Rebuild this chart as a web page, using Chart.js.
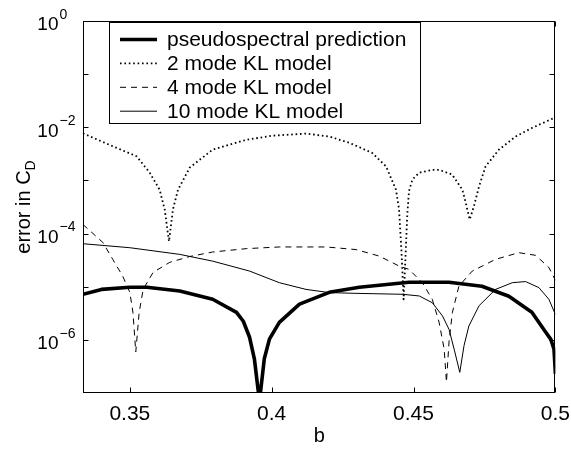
<!DOCTYPE html>
<html>
<head>
<meta charset="utf-8">
<script src="https://cdn.jsdelivr.net/npm/chart.js@4"></script>
<style>
    html, body { margin: 0; padding: 0; background: #fff; }
    canvas { display: block; }
</style>
</head>
<body>
<canvas id="errChart" width="571" height="452"></canvas>
<script>
// Axis setup
const xMin = 0.3335;
const xMax = 0.5;
const xTicks = [0.35, 0.4, 0.45, 0.5];
const xTickLabels = ['0.35', '0.4', '0.45', '0.5'];
const yMin = 1e-7;
const yMax = 1;
const yLabelExps = [-6, -4, -2, 0];
const seriesLabels = ['pseudospectral prediction', '2 mode KL model', '4 mode KL model', '10 mode KL model'];

// pseudospectral prediction (thick)
const thickB = [0.3335, 0.3400, 0.3500, 0.3560, 0.3676, 0.3792, 0.3876, 0.3900, 0.3922, 0.3939, 0.3957, 0.3974, 0.3992,
    0.4027, 0.4098, 0.4203, 0.4309, 0.4484, 0.4625, 0.4741, 0.4836, 0.4917, 0.4966, 0.4984, 0.4995, 0.5000];
const thickErr = [7.2e-6, 8.9e-6, 9.75e-6, 9.8e-6, 8.3e-6, 5.8e-6, 3.3e-6, 2.24e-6, 1.12e-6, 4.4e-7, 7e-8, 4.4e-7, 1.03e-6,
    2.14e-6, 4.7e-6, 7.85e-6, 9.8e-6, 1.21e-5, 1.21e-5, 1.02e-5, 6.6e-6, 3.3e-6, 1.39e-6, 1.02e-6, 6.7e-7, 2.3e-7];

// 2 mode KL model (dotted)
const twoModeB = [0.3335, 0.3440, 0.3524, 0.3570, 0.3605, 0.3623, 0.3638, 0.3652, 0.3670, 0.3711, 0.3792, 0.3910, 0.4003,
    0.4121, 0.4203, 0.4274, 0.4354, 0.4403, 0.4438, 0.4449, 0.4458, 0.4465, 0.4472, 0.4478, 0.4484, 0.4496, 0.4520,
    0.4566, 0.4590, 0.4636, 0.4672, 0.4684, 0.4698, 0.4713, 0.4731, 0.4754, 0.4801, 0.4860, 0.4917, 0.4994, 0.5000];
const twoModeErr = [7.7e-3, 4.4e-3, 2.84e-3, 1.4e-3, 6.7e-4, 2.84e-4, 7.1e-5, 2.84e-4, 6.7e-4, 1.74e-3, 3.8e-3, 5.8e-3, 6.95e-3,
    7.6e-3, 6.7e-3, 5.1e-3, 3.3e-3, 1.84e-3, 6.7e-4, 2.84e-4, 4.1e-5, 5.8e-6, 4.1e-5, 2.3e-4, 6.3e-4, 1.04e-3, 1.4e-3,
    1.58e-3, 1.58e-3, 1.29e-3, 6.7e-4, 3.8e-4, 1.84e-4, 3.3e-4, 7.8e-4, 1.84e-3, 3.8e-3, 6.7e-3, 9.7e-3, 1.49e-2, 1.55e-2];

// 4 mode KL model (dashed)
const fourModeB = [0.3335, 0.3405, 0.3440, 0.3475, 0.3500, 0.3511, 0.3521, 0.3533, 0.3547, 0.3582, 0.3641, 0.3711, 0.3792,
    0.3910, 0.4027, 0.4192, 0.4297, 0.4379, 0.4449, 0.4484, 0.4531, 0.4566, 0.4590, 0.4608, 0.4616, 0.4625, 0.4637,
    0.4660, 0.4707, 0.4789, 0.4871, 0.4930, 0.4977, 0.5000];
const fourModeErr = [1.48e-4, 6.8e-5, 3.27e-5, 1.58e-5, 7.85e-6, 3.3e-6, 5.9e-7, 3.3e-6, 8.9e-6, 1.86e-5, 2.88e-5, 3.7e-5, 4.5e-5,
    5.2e-5, 5.6e-5, 5.6e-5, 5.0e-5, 3.77e-5, 2.45e-5, 2.12e-5, 1.19e-5, 5.8e-6, 2.15e-6, 6.7e-7, 1.6e-7, 9.1e-7, 3.3e-6,
    1.03e-5, 1.97e-5, 3.27e-5, 4.37e-5, 3.9e-5, 2.3e-5, 1.32e-5];

// 10 mode KL model (thin solid)
const tenModeB = [0.3335, 0.3500, 0.3676, 0.3792, 0.3922, 0.4027, 0.4121, 0.4203, 0.4297, 0.4461, 0.4520, 0.4566, 0.4602,
    0.4625, 0.4643, 0.4663, 0.4678, 0.4695, 0.4731, 0.4789, 0.4848, 0.4895, 0.4942, 0.4977, 0.5000];
const tenModeErr = [6.44e-5, 5.42e-5, 4.06e-5, 3.03e-5, 1.97e-5, 1.19e-5, 8.9e-6, 7.75e-6, 7.5e-6, 7.2e-6, 6.7e-6, 5.0e-6, 2.82e-6,
    1.58e-6, 6.7e-7, 2.45e-7, 7.8e-7, 1.82e-6, 4.4e-6, 8.9e-6, 1.19e-5, 1.25e-5, 9.6e-6, 5.8e-6, 3.0e-6];

const FONT = '"Liberation Sans", Arial, Helvetica, sans-serif';

function toPoints(xs, ys) {
    return xs.map((x, i) => ({ x: x, y: ys[i] }));
}

function strokeLine(ctx, x1, y1, x2, y2) {
    ctx.beginPath();
    ctx.moveTo(x1, y1);
    ctx.lineTo(x2, y2);
    ctx.stroke();
}

// Frame, inward ticks, 10^n labels, y title and the boxed legend
const frameAndLabels = {
    id: 'frameAndLabels',
    afterDraw(chart) {
        const ctx = chart.ctx;
        const area = chart.chartArea;
        const xs = chart.scales.x;
        const ys = chart.scales.y;
        const L = Math.round(area.left) + 0.5, R = Math.round(area.right) - 0.5;
        const T = Math.round(area.top) + 0.5, B = Math.round(area.bottom) - 0.5;

        ctx.save();
        ctx.strokeStyle = '#000';
        ctx.fillStyle = '#000';
        ctx.lineWidth = 1;
        ctx.setLineDash([]);
        ctx.strokeRect(L, T, R - L, B - T);

        // inward tick marks
        xTicks.forEach(v => {
            const px = Math.round(xs.getPixelForValue(v)) + 0.5;
            strokeLine(ctx, px, B, px, B - 5);
            strokeLine(ctx, px, T, px, T + 5);
        });
        ys.ticks.forEach(t => {
            const py = Math.round(ys.getPixelForValue(t.value)) + 0.5;
            strokeLine(ctx, L, py, L + 5, py);
            strokeLine(ctx, R, py, R - 5, py);
        });

        // y tick labels: 10 with raised exponent
        ctx.textBaseline = 'middle';
        yLabelExps.forEach(e => {
            const py = ys.getPixelForValue(Math.pow(10, e));
            ctx.font = '19px ' + FONT;
            ctx.textAlign = 'right';
            ctx.fillText('10', 58.5, py + 4);
            ctx.font = '14px ' + FONT;
            ctx.textAlign = 'left';
            ctx.fillText(e === 0 ? '0' : '\u2212' + Math.abs(e), 59.5, py - 6);
        });

        // y title with subscript
        ctx.save();
        ctx.translate(30, (area.top + area.bottom) / 2);
        ctx.rotate(-Math.PI / 2);
        ctx.textBaseline = 'alphabetic';
        ctx.textAlign = 'left';
        ctx.font = '20px ' + FONT;
        const mainText = 'error in C';
        const wMain = ctx.measureText(mainText).width;
        ctx.font = '14px ' + FONT;
        const wSub = ctx.measureText('D').width;
        const start = -(wMain + wSub) / 2;
        ctx.font = '20px ' + FONT;
        ctx.fillText(mainText, start, 0);
        ctx.font = '14px ' + FONT;
        ctx.fillText('D', start + wMain, 5);
        ctx.restore();

        // legend
        const box = { x: 109.5, y: 22.5, w: 311, h: 101 };
        ctx.fillStyle = '#fff';
        ctx.fillRect(box.x, box.y, box.w, box.h);
        ctx.strokeStyle = '#000';
        ctx.lineWidth = 1;
        ctx.strokeRect(box.x, box.y, box.w, box.h);
        ctx.font = '21px ' + FONT;
        ctx.textAlign = 'left';
        ctx.textBaseline = 'middle';
        chart.data.datasets.forEach((ds, i) => {
            const ly = 39.5 + i * 23.9;
            ctx.strokeStyle = ds.borderColor;
            ctx.lineWidth = ds.borderWidth;
            ctx.setLineDash(ds.borderDash || []);
            ctx.lineCap = 'butt';
            strokeLine(ctx, 120, ly, 157, ly);
            ctx.setLineDash([]);
            ctx.fillStyle = '#000';
            ctx.fillText(ds.label, 167, ly + 1);
        });
        ctx.restore();
    }
};

new Chart(document.getElementById('errChart'), {
    type: 'line',
    data: {
        datasets: [
            {
                label: seriesLabels[0],
                data: toPoints(thickB, thickErr),
                borderColor: '#000',
                borderWidth: 3.6,
                clip: 0
            },
            {
                label: seriesLabels[1],
                data: toPoints(twoModeB, twoModeErr),
                borderColor: '#000',
                borderWidth: 1.8,
                borderDash: [1.6, 2.8],
                clip: 0
            },
            {
                label: seriesLabels[2],
                data: toPoints(fourModeB, fourModeErr),
                borderColor: '#000',
                borderWidth: 1,
                borderDash: [6, 5],
                clip: 0
            },
            {
                label: seriesLabels[3],
                data: toPoints(tenModeB, tenModeErr),
                borderColor: '#000',
                borderWidth: 1,
                clip: 0
            }
        ]
    },
    options: {
        responsive: false,
        animation: false,
        devicePixelRatio: 1,
        layout: { padding: { top: 21, right: 14, left: 0, bottom: 0 } },
        elements: { point: { radius: 0 }, line: { tension: 0, borderJoinStyle: 'round' } },
        plugins: { legend: { display: false }, tooltip: { enabled: false } },
        scales: {
            x: {
                type: 'linear',
                min: xMin,
                max: xMax,
                afterFit: s => { s.height = 59; },
                afterBuildTicks: s => { s.ticks = xTicks.map(v => ({ value: v })); },
                grid: { display: false },
                border: { display: false },
                ticks: {
                    color: '#000',
                    font: { family: FONT, size: 21 },
                    padding: 1,
                    maxRotation: 0,
                    autoSkip: false,
                    callback: (v, i) => xTickLabels[i]
                },
                title: {
                    display: true,
                    text: 'b',
                    color: '#000',
                    font: { family: FONT, size: 20 },
                    padding: { top: 0, bottom: 4 }
                }
            },
            y: {
                type: 'logarithmic',
                min: yMin,
                max: yMax,
                afterFit: s => { s.width = 83; },
                afterBuildTicks: s => {
                    const t = [];
                    for (let e = -6; e <= -1; e++) t.push({ value: Math.pow(10, e) });
                    s.ticks = t;
                },
                grid: { display: false },
                border: { display: false },
                ticks: { display: false }
            }
        }
    },
    plugins: [frameAndLabels]
});
</script>
</body>
</html>
